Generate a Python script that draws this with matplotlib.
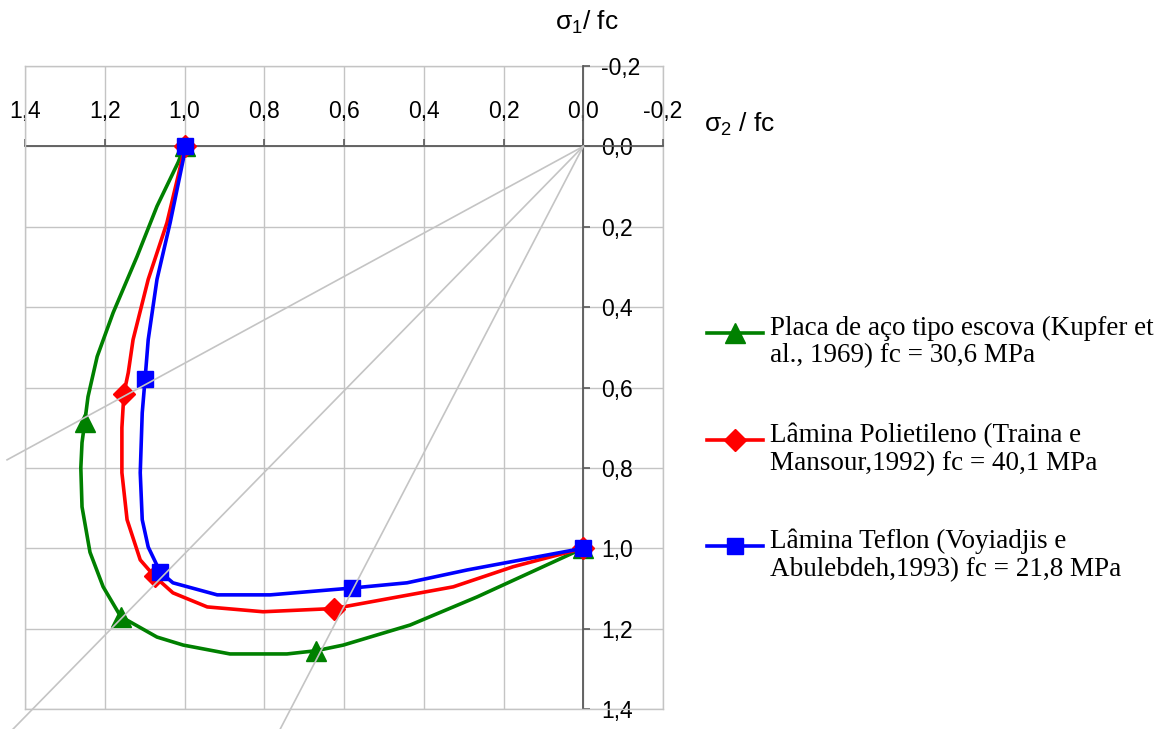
import numpy as np
import matplotlib
matplotlib.use('Agg')
import matplotlib.pyplot as plt
from matplotlib.lines import Line2D
from matplotlib.ticker import FixedLocator, FuncFormatter

# sigma2/fc (x) and sigma1/fc (y) along each envelope
kupfer_x = [1.000, 1.016, 1.069, 1.119, 1.179, 1.219, 1.242, 1.250, 1.257, 1.260,
            1.257, 1.237, 1.204, 1.160, 1.069, 1.003, 0.886, 0.743, 0.670, 0.602,
            0.434, 0.266, 0.000]
kupfer_y = [0.000, 0.040, 0.149, 0.274, 0.414, 0.523, 0.623, 0.685, 0.737, 0.800,
            0.897, 1.010, 1.096, 1.170, 1.221, 1.241, 1.263, 1.263, 1.255, 1.241,
            1.191, 1.121, 1.000]
kupfer_marks = [0, 7, 13, 18, 22]

traina_x = [1.000, 1.006, 1.044, 1.091, 1.129, 1.141, 1.152, 1.157, 1.157, 1.144,
            1.111, 1.075, 1.029, 0.943, 0.803, 0.625, 0.326, 0.176, 0.000]
traina_y = [0.000, 0.032, 0.190, 0.331, 0.481, 0.563, 0.615, 0.700, 0.812, 0.929,
            1.029, 1.070, 1.111, 1.146, 1.158, 1.150, 1.096, 1.046, 1.000]
traina_marks = [0, 6, 11, 15, 18]

voyiadjis_x = [1.000, 1.003, 1.036, 1.069, 1.091, 1.099, 1.106, 1.111, 1.106, 1.091,
               1.061, 1.029, 0.918, 0.785, 0.580, 0.442, 0.291, 0.000]
voyiadjis_y = [0.000, 0.032, 0.190, 0.331, 0.481, 0.580, 0.663, 0.812, 0.929, 0.997,
               1.059, 1.086, 1.116, 1.116, 1.099, 1.086, 1.054, 1.000]
voyiadjis_marks = [0, 5, 10, 14, 17]

# loading paths (constant stress ratio) drawn from the origin
path_ends_x = [1.445, 1.430, 0.760]
path_ends_y = [0.780, 1.450, 1.450]

labels = ['Placa de aço tipo escova (Kupfer et\nal., 1969) fc = 30,6 MPa',
          'Lâmina Polietileno (Traina e\nMansour,1992) fc = 40,1 MPa',
          'Lâmina Teflon (Voyiadjis e\nAbulebdeh,1993) fc = 21,8 MPa']

tick_vals = [1.4, 1.2, 1.0, 0.8, 0.6, 0.4, 0.2, 0.0, -0.2]

plt.rcParams['font.family'] = ['Liberation Sans', 'DejaVu Sans']
plt.rcParams['mathtext.fontset'] = 'custom'
plt.rcParams['mathtext.rm'] = 'Liberation Sans'
plt.rcParams['mathtext.it'] = 'Liberation Sans'

fig = plt.figure(figsize=(11.68, 7.29), dpi=100)
ax = fig.add_axes([25/1168, 1 - 709/729, 638/1168, 643/729])

ax.set_xlim(1.4, -0.2)
ax.set_ylim(1.4, -0.2)

grid_c = '#c4c4c4'
axis_c = '#5a5a5a'

# light frame on left/bottom, the other two spines become the axes through 0
for side in ('left', 'bottom'):
    ax.spines[side].set_color(grid_c)
    ax.spines[side].set_linewidth(1.0)
ax.spines['top'].set_position(('data', 0))
ax.spines['right'].set_position(('data', 0))
for side in ('top', 'right'):
    ax.spines[side].set_color(axis_c)
    ax.spines[side].set_linewidth(1.3)
    ax.spines[side].set_zorder(2)

fmt = FuncFormatter(lambda v, p: f'{abs(v) if abs(v) < 1e-9 else v:.1f}'.replace('.', ','))
ax.xaxis.set_major_locator(FixedLocator(tick_vals))
ax.yaxis.set_major_locator(FixedLocator(tick_vals))
ax.xaxis.set_major_formatter(fmt)
ax.yaxis.set_major_formatter(fmt)
ax.xaxis.set_ticks_position('top')
ax.yaxis.set_ticks_position('right')
ax.tick_params(axis='x', direction='out', length=5, width=1.2, color=axis_c,
               pad=12, labelsize=16.5)
ax.tick_params(axis='y', direction='out', length=5, width=1.2, color=axis_c,
               pad=8, labelsize=16.5)

ax.grid(True, color=grid_c, linewidth=1.0, zorder=0)
# close the frame on the -0,2 sides
ax.axvline(-0.2, color=grid_c, lw=1.0, zorder=0, clip_on=False)
ax.axhline(-0.2, color=grid_c, lw=1.0, zorder=0, clip_on=False)

series = [
    (kupfer_x, kupfer_y, kupfer_marks, '#008000', '^', 14),
    (traina_x, traina_y, traina_marks, '#ff0000', 'D', 11),
    (voyiadjis_x, voyiadjis_y, voyiadjis_marks, '#0000ff', 's', 11),
]
for i, (xs, ys, marks, c, m, ms) in enumerate(series):
    ax.plot(xs, ys, color=c, lw=2.6, marker=m, ms=ms, markevery=marks,
            mec=c, mfc=c, zorder=3 + i, clip_on=False)

for ex, ey in zip(path_ends_x, path_ends_y):
    ax.plot([0, ex], [0, ey], color=grid_c, lw=1.2, zorder=7, clip_on=False)

fig.text(587/1168, 1 - 22/729, r'$\sigma_{\mathregular{1}}$/ fc', fontsize=19,
         ha='center', va='center')
fig.text(704/1168, 1 - 124/729, r'$\sigma_{\mathregular{2}}$ / fc', fontsize=19,
         ha='left', va='center')

# legend drawn in figure coordinates
legend_y = [333, 440, 546]
for (xs, ys, marks, c, m, ms), ly, lab in zip(series, legend_y, labels):
    yf = 1 - ly / 729
    fig.add_artist(Line2D([707/1168, 763/1168], [yf, yf], color=c, lw=2.6))
    fig.add_artist(Line2D([735/1168], [yf], color=c, marker=m, ms=ms, mec=c, mfc=c))
    fig.text(770/1168, 1 - (ly - 17) / 729, lab, fontsize=19.5, family='Liberation Serif',
             ha='left', va='top', linespacing=1.12)

fig.savefig('out.png', dpi=100)
